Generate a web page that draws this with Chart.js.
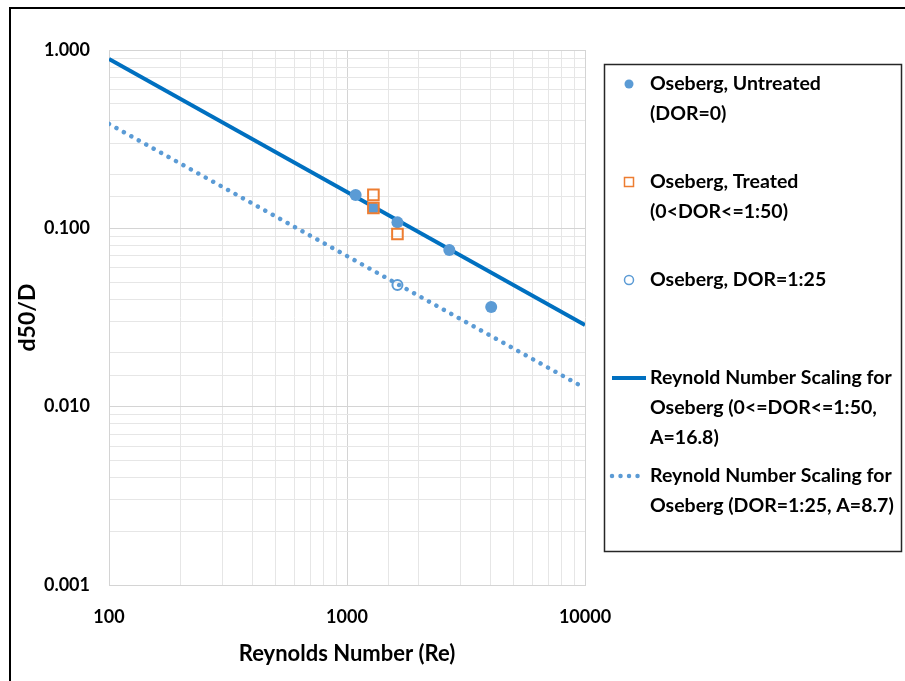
<!DOCTYPE html>
<html>
<head>
<meta charset="utf-8">
<title>d50/D vs Reynolds Number</title>
<script src="https://cdn.jsdelivr.net/npm/chart.js@4.4.1/dist/chart.umd.min.js"></script>
<style>
  html, body { margin: 0; padding: 0; background: #fff; }
  #grafico { display: block; }
</style>
</head>
<body>
<canvas id="grafico" width="905" height="681"></canvas>
<script>
// measured droplet sizes (Re, d50/D)
const re_untreated = [1087, 1291, 1629, 2691, 4036]
const d50_untreated = [0.154, 0.130, 0.108, 0.0756, 0.0362]
const re_treated = [1291, 1291, 1629]
const d50_treated = [0.154, 0.130, 0.0929]
const re_dor125 = [1629]
const d50_dor125 = [0.0481]

// scaling lines, evaluated at the ends of the x axis
const re_fit = [100, 10000]
const d50_fit_a168 = [0.89, 0.0287]
const d50_fit_a87 = [0.385, 0.0127]

// labelled decades
const x_ticks = [100, 1000, 10000]
const y_ticks = [0.001, 0.01, 0.1, 1]

const azul = "#5B9BD5"
const azul_escuro = "#0070C0"
const laranja = "#ED7D31"
const fonte = "Lato"

function pontos(xs, ys) {
    return xs.map((x, i) => ({ x: x, y: ys[i] }))
}

function is_tick(valor, lista) {
    return lista.some(t => Math.abs(Math.log10(valor) - Math.log10(t)) < 1e-6)
}

function is_decade(valor) {
    const l = Math.log10(valor)
    return Math.abs(l - Math.round(l)) < 1e-6
}

const cor_grelha = ctx => (ctx.tick && is_decade(ctx.tick.value)) ? "#d4d4d4" : "#e6e6e6"

// legend drawn by hand so the long labels can wrap like the original
function desenhar_simbolo(ctx, ds, x, y) {
    ctx.save()
    if (ds.showLine) {
        ctx.strokeStyle = ds.borderColor
        ctx.lineWidth = ds.borderWidth
        ctx.lineCap = ds.borderCapStyle || "butt"
        ctx.setLineDash(ds.borderDash || [])
        ctx.beginPath()
        ctx.moveTo(612, y)
        ctx.lineTo(646, y)
        ctx.stroke()
    } else if (ds.pointStyle === "rect") {
        ctx.strokeStyle = ds.pointBorderColor
        ctx.lineWidth = 1.5
        ctx.strokeRect(x - 4.5, y - 4.5, 9, 9)
    } else {
        ctx.beginPath()
        ctx.arc(x, y, 4.5, 0, Math.PI * 2)
        if (ds.pointBackgroundColor !== "transparent") {
            ctx.fillStyle = ds.pointBackgroundColor
            ctx.fill()
        } else {
            ctx.strokeStyle = ds.pointBorderColor
            ctx.lineWidth = 1.5
            ctx.stroke()
        }
    }
    ctx.restore()
}

const legenda = {
    id: "legenda",
    afterDraw(chart) {
        const ctx = chart.ctx
        ctx.save()
        // outer frame, only its left and top edges fall inside the canvas
        ctx.strokeStyle = "#000"
        ctx.lineWidth = 2
        ctx.beginPath()
        ctx.moveTo(10, 681)
        ctx.lineTo(10, 8)
        ctx.lineTo(905, 8)
        ctx.stroke()

        ctx.strokeStyle = "#262626"
        ctx.lineWidth = 1.5
        ctx.strokeRect(604.5, 64.5, 297, 487)

        ctx.font = "bold 19.5px " + fonte
        ctx.fillStyle = "#000"
        ctx.textBaseline = "middle"
        ctx.textAlign = "left"
        chart.data.datasets.forEach((ds, i) => {
            const y = 84 + i * 98
            desenhar_simbolo(ctx, ds, 629, y)
            ds.label.split("\n").forEach((linha, j) => {
                ctx.fillText(linha, 650, y + j * 30)
            })
        })
        ctx.restore()
    }
}

Chart.defaults.color = "#000"
Chart.defaults.font.family = fonte
Chart.defaults.font.weight = "bold"

const dados = {
    datasets: [{
        label: "Oseberg, Untreated\n(DOR=0)",
        data: pontos(re_untreated, d50_untreated),
        pointStyle: "circle",
        pointRadius: 6,
        pointBackgroundColor: azul,
        pointBorderColor: azul,
        pointBorderWidth: 0,
        showLine: false,
        order: 1,
    }, {
        label: "Oseberg, Treated\n(0<DOR<=1:50)",
        data: pontos(re_treated, d50_treated),
        pointStyle: "rect",
        pointRadius: 7.5,
        pointBackgroundColor: "transparent",
        pointBorderColor: laranja,
        pointBorderWidth: 2,
        showLine: false,
        order: 0,
    }, {
        label: "Oseberg, DOR=1:25",
        data: pontos(re_dor125, d50_dor125),
        pointStyle: "circle",
        pointRadius: 5,
        pointBackgroundColor: "transparent",
        pointBorderColor: azul,
        pointBorderWidth: 2,
        showLine: false,
        order: 2,
    }, {
        label: "Reynold Number Scaling for\nOseberg (0<=DOR<=1:50,\nA=16.8)",
        data: pontos(re_fit, d50_fit_a168),
        showLine: true,
        borderColor: azul_escuro,
        borderWidth: 4,
        pointRadius: 0,
        order: 3,
    }, {
        label: "Reynold Number Scaling for\nOseberg (DOR=1:25, A=8.7)",
        data: pontos(re_fit, d50_fit_a87),
        showLine: true,
        borderColor: azul,
        borderWidth: 4.5,
        borderDash: [0.01, 8.5],
        borderCapStyle: "round",
        pointRadius: 0,
        order: 4,
    }]
}

const config = {
    type: "scatter",
    data: dados,
    options: {
        responsive: false,
        animation: false,
        layout: { padding: { top: 50, right: 320, bottom: 0, left: 0 } },
        plugins: {
            legend: { display: false },
            tooltip: { enabled: false },
        },
        scales: {
            x: {
                type: "logarithmic",
                min: 100,
                max: 10000,
                afterFit: s => { s.height = 96 },
                grid: { color: cor_grelha, drawTicks: false, lineWidth: 1 },
                border: { color: "#d4d4d4" },
                ticks: {
                    autoSkip: false,
                    maxRotation: 0,
                    padding: 21,
                    font: { size: 18, weight: "bold" },
                    callback: v => is_tick(v, x_ticks) ? String(Math.round(v)) : "",
                },
                title: {
                    display: true,
                    text: "Reynolds Number (Re)",
                    font: { size: 22, weight: "bold" },
                    padding: { top: 0, bottom: 14 },
                },
            },
            y: {
                type: "logarithmic",
                min: 0.001,
                max: 1,
                afterFit: s => { s.width = 109 },
                grid: { color: cor_grelha, drawTicks: false, lineWidth: 1 },
                border: { color: "#d4d4d4" },
                ticks: {
                    autoSkip: false,
                    padding: 19,
                    font: { size: 18, weight: "bold" },
                    callback: v => is_tick(v, y_ticks) ? v.toFixed(3) : "",
                },
                title: {
                    display: true,
                    text: "d50/D",
                    font: { size: 23, weight: "bold" },
                    padding: { top: 14, bottom: 0 },
                },
            },
        },
    },
    plugins: [legenda],
}

const grafico = new Chart(document.getElementById("grafico"), config)
</script>
</body>
</html>
